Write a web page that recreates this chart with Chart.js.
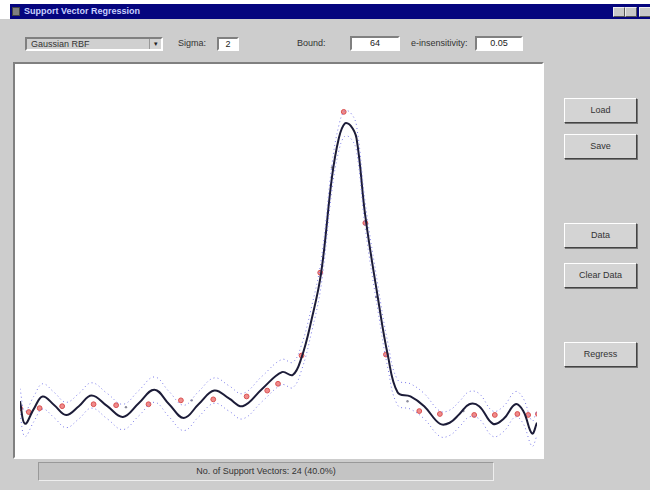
<!DOCTYPE html>
<html>
<head>
<meta charset="utf-8">
<title>Support Vector Regression</title>
<script src="https://cdn.jsdelivr.net/npm/chart.js@4/dist/chart.umd.min.js"></script>
<style>
    body { margin: 0; background: #fff; font-family: "Liberation Sans", Arial, sans-serif; font-size: 10px; color: #222; }
    .win { position: absolute; left: 0; top: 19px; width: 650px; height: 471px; background: #cdcdcd; }
    .abs { position: absolute; }
    .titlebar { left: 10px; top: 4px; width: 640px; height: 15px; background: #05057e; }
    .titlebar .icon { position: absolute; left: 2px; top: 3px; width: 8px; height: 9px; background: #808080; border: 1px solid #444; box-sizing: border-box; }
    .titlebar .txt { position: absolute; left: 14px; top: 2px; color: #c8d0ff; font-weight: bold; font-size: 9px; }
    .tbtn { top: 7px; width: 12px; height: 10px; background: #c8c8c8; border: 1px solid #eee; border-right-color: #555; border-bottom-color: #555; box-sizing: border-box; }
    .sunken { border: 2px solid; border-color: #808080 #fff #fff #808080; box-sizing: border-box; }
    .field { background: #fff; text-align: center; line-height: 11px; font-size: 9px; }
    .lbl { font-size: 9px; color: #333; }
    .btn { left: 564px; width: 73px; height: 25px; background: #d4d4d4; border: 1px solid; border-color: #fff #444 #444 #fff;
           box-sizing: border-box; text-align: center; line-height: 23px; font-size: 9px; color: #333; box-shadow: 1px 1px 0 #777; }
    .plot { left: 13px; top: 62px; width: 531px; height: 397px; background: #fff; }
</style>
</head>
<body>
<div class="win"></div>
<div class="abs titlebar"><div class="icon"></div><div class="txt">Support Vector Regression</div></div>
<div class="abs tbtn" style="left:613px"></div>
<div class="abs tbtn" style="left:625px"></div>
<div class="abs tbtn" style="left:639px"></div>

<div class="abs sunken" style="left:25px;top:37px;width:138px;height:14px;background:#d0d0d0">
    <span class="abs lbl" style="left:4px;top:0px">Gaussian RBF</span>
    <span class="abs" style="right:0;top:0;width:11px;height:10px;background:#d4d4d4;border-left:1px solid #999;font-size:7px;text-align:center;line-height:10px">&#9662;</span>
</div>
<span class="abs lbl" style="left:178px;top:38px">Sigma:</span>
<div class="abs sunken field" style="left:217px;top:37px;width:22px;height:14px">2</div>
<span class="abs lbl" style="left:297px;top:38px">Bound:</span>
<div class="abs sunken field" style="left:350px;top:36px;width:50px;height:15px">64</div>
<span class="abs lbl" style="left:411px;top:38px">e-insensitivity:</span>
<div class="abs sunken field" style="left:475px;top:36px;width:48px;height:15px">0.05</div>

<div class="abs sunken plot">
    <canvas id="svr" width="527" height="393"></canvas>
</div>

<div class="abs btn" style="top:98px">Load</div>
<div class="abs btn" style="top:134px">Save</div>
<div class="abs btn" style="top:223px">Data</div>
<div class="abs btn" style="top:263px">Clear Data</div>
<div class="abs btn" style="top:342px">Regress</div>

<div class="abs" style="left:38px;top:462px;width:456px;height:19px;background:#c4c4c4;border:1px solid;border-color:#999 #eee #eee #999;box-sizing:border-box;text-align:center;line-height:17px;font-size:9px;color:#333">No. of Support Vectors: 24 (40.0%)</div>

<script>
// Support Vector Regression plot: fitted function, epsilon tube and samples.
// Units are the plot's own (x 0..527, y 0..393).

const fitX = [0, 5, 14, 23, 35, 47, 60, 73, 89, 105, 121, 137, 152, 167, 182, 198, 213, 227, 247, 267,
    278, 287, 297, 307, 318, 325, 331, 337, 343, 352, 365, 375, 385, 398, 412, 428, 438, 448, 458, 468,
    482, 493, 505, 513, 522, 527];
const fitY = [52, 29, 44, 57, 48, 38, 47, 58, 47, 36, 50, 64, 49, 35, 49, 63, 55, 47, 65, 82,
    79, 97, 135, 184, 282, 322, 337, 335, 322, 242, 157, 99, 61, 57, 47, 29, 30, 39, 49, 47,
    29, 34, 49, 42, 19, 30];
const tubeUpper = [65, 42, 57, 70, 61, 51, 60, 71, 60, 49, 63, 77, 62, 48, 62, 76, 68, 60, 78, 95,
    92, 110, 148, 197, 295, 335, 350, 348, 335, 255, 170, 112, 74, 70, 60, 42, 43, 52, 62, 60,
    42, 47, 62, 55, 32, 43];
const tubeLower = [39, 16, 31, 44, 35, 25, 34, 45, 34, 23, 37, 51, 36, 22, 36, 50, 42, 34, 52, 69,
    66, 84, 122, 171, 269, 309, 324, 322, 309, 229, 144, 86, 48, 44, 34, 16, 17, 26, 36, 34,
    16, 21, 36, 29, 6, 17];

// support vectors (red circles)
const svX = [0, 9, 20, 43, 75, 98, 131, 164, 197, 231, 252, 263, 287, 306, 330, 352, 373, 407, 428, 463, 484, 507, 518, 528];
const svY = [45, 41, 45, 47, 49, 48, 49, 53, 54, 57, 63, 70, 99, 184, 349, 235, 100, 42, 39, 38, 38, 39, 38, 39];

// other samples inside the tube (small grey dots)
const ptX = [108, 175, 318, 363, 395, 452];
const ptY = [46, 53, 292, 159, 52, 42];

const toXY = (xs, ys) => xs.map((x, i) => ({ x, y: ys[i] }));

new Chart(document.getElementById('svr'), {
    type: 'scatter',
    data: {
        datasets: [
            { data: toXY(fitX, tubeUpper), showLine: true, borderColor: '#7878e8', borderWidth: 1, borderDash: [1, 3],
              pointRadius: 0, tension: 0.4, fill: false },
            { data: toXY(fitX, tubeLower), showLine: true, borderColor: '#7878e8', borderWidth: 1, borderDash: [1, 3],
              pointRadius: 0, tension: 0.4, fill: false },
            { data: toXY(fitX, fitY), showLine: true, borderColor: '#1c1c38', borderWidth: 2,
              pointRadius: 0, tension: 0.4, fill: false },
            { data: toXY(ptX, ptY), pointRadius: 1.2, backgroundColor: '#8a8a9a', borderWidth: 0 },
            { data: toXY(svX, svY), pointRadius: 2.4, backgroundColor: 'rgba(236,110,110,0.8)', borderColor: '#d85050', borderWidth: 1 }
        ]
    },
    options: {
        responsive: false,
        animation: false,
        layout: { padding: 0 },
        plugins: { legend: { display: false }, tooltip: { enabled: false } },
        scales: {
            x: { type: 'linear', display: false, min: 0, max: 527 },
            y: { type: 'linear', display: false, min: 0, max: 393 }
        }
    }
});
</script>
</body>
</html>
